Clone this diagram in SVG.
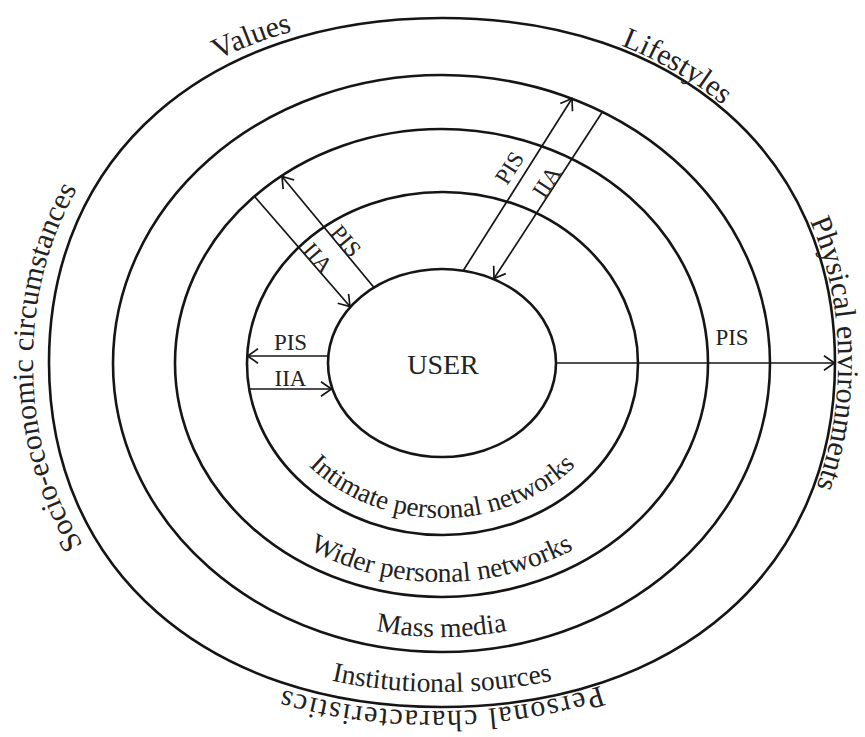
<svg xmlns="http://www.w3.org/2000/svg" width="865" height="737" viewBox="0 0 865 737">
<style>
.ring{fill:none;stroke:#151515;stroke-width:2.6}
.ln{fill:none;stroke:#151515;stroke-width:1.7}
.t{font-family:"Liberation Serif","Times New Roman",serif;fill:#222}
.lab{font-size:23px}
.ol{font-size:30px}
</style>
<defs>
<marker id="ah" viewBox="0 0 14 16" refX="12.5" refY="8" markerWidth="14" markerHeight="16" markerUnits="userSpaceOnUse" orient="auto">
<path d="M2,0.8 L12.5,8 L2,15.2" fill="none" stroke="#151515" stroke-width="1.7"/>
</marker>
<path id="pInt" d="M264 363.5 A178 154.5 0 0 0 620 363.5"/>
<path id="pWid" d="M190 363 A251.5 219 0 0 0 693 363"/>
<path id="pMass" d="M128 363.5 A313.5 273.5 0 0 0 755 363.5"/>
<path id="pInst" d="M64,362.5 C64,560.2 215.2,692 442,692 C668.8,692 820,560.2 820,362.5"/>
<path id="pB" d="M435.5,711 C194,711 33,571.4 33,362 C33,152.6 194,13 435.5,13 C677,13 838,152.6 838,362 C838,571.4 677,711 435.5,711"/>
<path id="pT" d="M435.5,13 C677,13 838,152.6 838,362 C838,571.4 677,711 435.5,711 C194,711 33,571.4 33,362 C33,152.6 194,13 435.5,13"/>
</defs>
<rect width="865" height="737" fill="#ffffff"/>

<g id="outer-ring">
<path class="ring" d="M49,362.5 C49,155.8 206.2,18 442,18 C677.8,18 835,155.8 835,362.5 C835,569.2 677.8,707 442,707 C206.2,707 49,569.2 49,362.5 Z"/>
<text class="t ol"><textPath href="#pB" startOffset="593" text-anchor="middle">Socio-economic circumstances</textPath></text>
<text class="t ol"><textPath href="#pB" startOffset="1013" text-anchor="middle">Values</textPath></text>
<text class="t ol"><textPath href="#pB" startOffset="1446" text-anchor="middle">Lifestyles</textPath></text>
<text class="t ol"><textPath href="#pB" startOffset="1788" text-anchor="middle">Physical environments</textPath></text>
<text class="t ol"><textPath href="#pT" startOffset="1191" text-anchor="middle" textLength="322" lengthAdjust="spacing">Personal characteristics</textPath></text>
<text class="t" font-size="27.5"><textPath href="#pInst" startOffset="50%" text-anchor="middle">Institutional sources</textPath></text>
</g>

<g id="mass-media">
<ellipse class="ring" cx="441.5" cy="363.5" rx="328.5" ry="288.5"/>
<text class="t" font-size="27.5"><textPath href="#pMass" startOffset="50%" text-anchor="middle">Mass media</textPath></text>
</g>

<g id="wider-networks">
<ellipse class="ring" cx="441.5" cy="363" rx="266.5" ry="234"/>
<text class="t" font-size="27.5"><textPath href="#pWid" startOffset="50%" text-anchor="middle">Wider personal networks</textPath></text>
</g>

<g id="intimate-networks">
<ellipse class="ring" cx="442.5" cy="363.5" rx="195.5" ry="171.5"/>
<text class="t" font-size="27"><textPath href="#pInt" startOffset="50%" text-anchor="middle">Intimate personal networks</textPath></text>
</g>

<g id="user">
<ellipse class="ring" cx="442" cy="363" rx="114" ry="94"/>
<text class="t" x="443" y="374" font-size="28" text-anchor="middle">USER</text>
</g>

<g id="connectors">
<line class="ln" x1="328" y1="356" x2="247.5" y2="356" marker-end="url(#ah)"/>
<line class="ln" x1="249" y1="389" x2="331.5" y2="389" marker-end="url(#ah)"/>
<line class="ln" x1="556" y1="363" x2="834.5" y2="363" marker-end="url(#ah)"/>
<line class="ln" x1="255" y1="197" x2="350" y2="306.5" marker-end="url(#ah)"/>
<line class="ln" x1="374" y1="287.5" x2="282" y2="176.5" marker-end="url(#ah)"/>
<line class="ln" x1="463" y1="271" x2="572" y2="98.5" marker-end="url(#ah)"/>
<line class="ln" x1="603" y1="111" x2="494" y2="278.5" marker-end="url(#ah)"/>
<text class="t lab" x="290.5" y="350" text-anchor="middle">PIS</text>
<text class="t lab" x="290.5" y="386" text-anchor="middle">IIA</text>
<text class="t lab" x="732" y="345" text-anchor="middle">PIS</text>
<text class="t lab" text-anchor="middle" transform="translate(340,246) rotate(50)">PIS</text>
<text class="t lab" text-anchor="middle" transform="translate(312,263) rotate(49)">IIA</text>
<text class="t lab" text-anchor="middle" transform="translate(516,172) rotate(-57.5)">PIS</text>
<text class="t lab" text-anchor="middle" transform="translate(553,186) rotate(-57)">IIA</text>
</g>
</svg>
